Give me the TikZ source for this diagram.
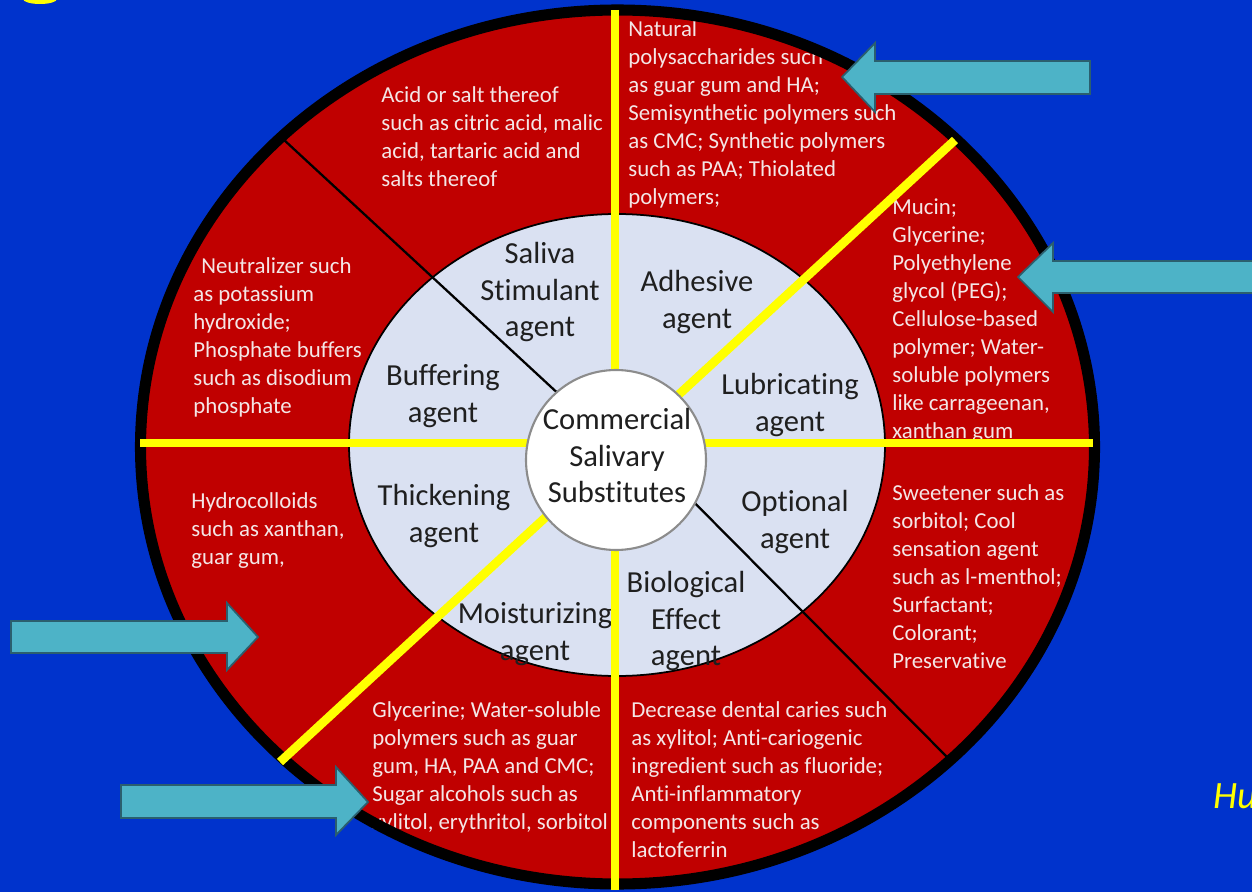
\documentclass[tikz,border=0pt]{standalone}
\usepackage{fontspec}
\setmainfont{Carlito}[Ligatures=NoCommon]
\usepackage{xcolor}
\definecolor{slideblue}{HTML}{0033CC}
\definecolor{wheelred}{HTML}{C00000}
\definecolor{ringgrey}{HTML}{DAE1F2}
\definecolor{arrowteal}{HTML}{4DB3C7}
\definecolor{arrowedge}{HTML}{2B5F6E}
\definecolor{notewhite}{HTML}{F4E6E6}
\definecolor{titleyellow}{HTML}{FFFF00}

\tikzset{
    note/.style={anchor=north west, align=left, inner sep=0pt, text=notewhite,
        font=\fontsize{13}{15.9}\selectfont},
    agent/.style={anchor=north, align=center, inner sep=0pt, text=black!88,
        font=\fontsize{17.4}{21}\selectfont},
    divider/.style={titleyellow, line width=5pt},
    spoke/.style={black, line width=1.3pt},
    blockarrow/.style={fill=arrowteal, draw=arrowedge, line width=1pt, line join=miter},
}

\begin{document}
\begin{tikzpicture}[x=0.02cm, y=-0.02cm]
    % Draw the slide background
    \fill[slideblue] (0,0) rectangle (1252,892);
    \useasboundingbox (0,0) rectangle (1252,892);
    \fill[titleyellow] (40,-1) ellipse [x radius=17, y radius=5];

    % Define coordinates for the wheel
    \coordinate (Hub) at (617.5,447);
    \coordinate (Core) at (616,460);

    % Draw the outer ring and the inner ring
    \fill[wheelred] (Hub) ellipse [x radius=477, y radius=437];
    \filldraw[fill=ringgrey, draw=black, line width=1pt] (617,445) ellipse [x radius=268, y radius=231];

    % Thin black spokes
    \draw[spoke] (283,139) -- (617,448);
    \draw[spoke] (949,759) -- (660,468);

    % Examples in the outer ring
    \node[note] (Acid) at (381,83) {\strut Acid or salt thereof\\such as citric acid, malic\\acid, tartaric acid and\\salts thereof};
    \node[note] (Natural) at (628,17) {\strut Natural\\polysaccharides such\\as guar gum and HA;\\Semisynthetic polymers such\\as CMC; Synthetic polymers\\such as PAA; Thiolated\\polymers;};
    \node[note] (Mucin) at (892,195) {\strut Mucin;\\Glycerine;\\Polyethylene\\glycol (PEG);\\Cellulose-based\\polymer; Water-\\soluble polymers\\like carrageenan,\\xanthan gum};
    \node[note] (Neutral) at (193,254) {\strut\hspace{0.35em}Neutralizer such\\as potassium\\hydroxide;\\Phosphate buffers\\such as disodium\\phosphate};
    \node[note] (Hydro) at (191,489) {\strut Hydrocolloids\\such as xanthan,\\guar gum,};
    \node[note] (Glycerine) at (372,698) {\strut Glycerine; Water-soluble\\polymers such as guar\\gum, HA, PAA and CMC;\\Sugar alcohols such as\\xylitol, erythritol, sorbitol};
    \node[note] (Caries) at (631,698) {\strut Decrease dental caries such\\as xylitol; Anti-cariogenic\\ingredient such as fluoride;\\Anti-inflammatory\\components such as\\lactoferrin};
    \node[note] (Sweet) at (892,481) {\strut Sweetener such as\\sorbitol; Cool\\sensation agent\\such as l-menthol;\\Surfactant;\\Colorant;\\Preservative};

    % Agents in the inner ring
    \node[agent] (Saliva) at (540,237) {\strut Saliva\\Stimulant\\agent};
    \node[agent] (Adhesive) at (697,265) {\strut Adhesive\\agent};
    \node[agent] (Buffering) at (443,359) {\strut Buffering\\agent};
    \node[agent] (Lubricating) at (790,368) {\strut Lubricating\\agent};
    \node[agent] (Thickening) at (444,479) {\strut Thickening\\agent};
    \node[agent] (Optional) at (795,485) {\strut Optional\\agent};
    \node[agent] (Moisturizing) at (535,597) {\strut Moisturizing\\agent};
    \node[agent] (Biological) at (686,566) {\strut Biological\\Effect\\agent};

    % Rim of the wheel and the yellow dividers
    \draw[black, line width=6.3pt] (Hub) ellipse [x radius=477, y radius=437];
    \draw[divider] (140,443) -- (1093,443);
    \draw[divider] (615,10) -- (615,890);
    \draw[divider] (280,762) -- (955,140);

    % Centre circle
    \filldraw[fill=white, draw=black!45, line width=1.2pt] (Core) circle [radius=90];
    \node[agent] (Centre) at (617,403) {\strut Commercial\\Salivary\\Substitutes};

    % Pointer arrows
    \draw[blockarrow] (842,77) -- (875,43) -- (875,61) -- (1090,61) -- (1090,94) -- (875,94) -- (875,112) -- cycle;
    \draw[blockarrow] (1018,277) -- (1053,243) -- (1053,261) -- (1275,261) -- (1275,293) -- (1053,293) -- (1053,312) -- cycle;
    \draw[blockarrow] (258,637) -- (227,603) -- (227,621) -- (11,621) -- (11,653) -- (227,653) -- (227,670) -- cycle;
    \draw[blockarrow] (368,802) -- (336,767) -- (336,785) -- (121,785) -- (121,818) -- (336,818) -- (336,835) -- cycle;

    % Cut-off reference
    \node[anchor=base west, inner sep=0pt, text=titleyellow, font=\fontsize{22}{26}\selectfont\itshape] (Ref) at (1213,808) {Hu};
\end{tikzpicture}
\end{document}
